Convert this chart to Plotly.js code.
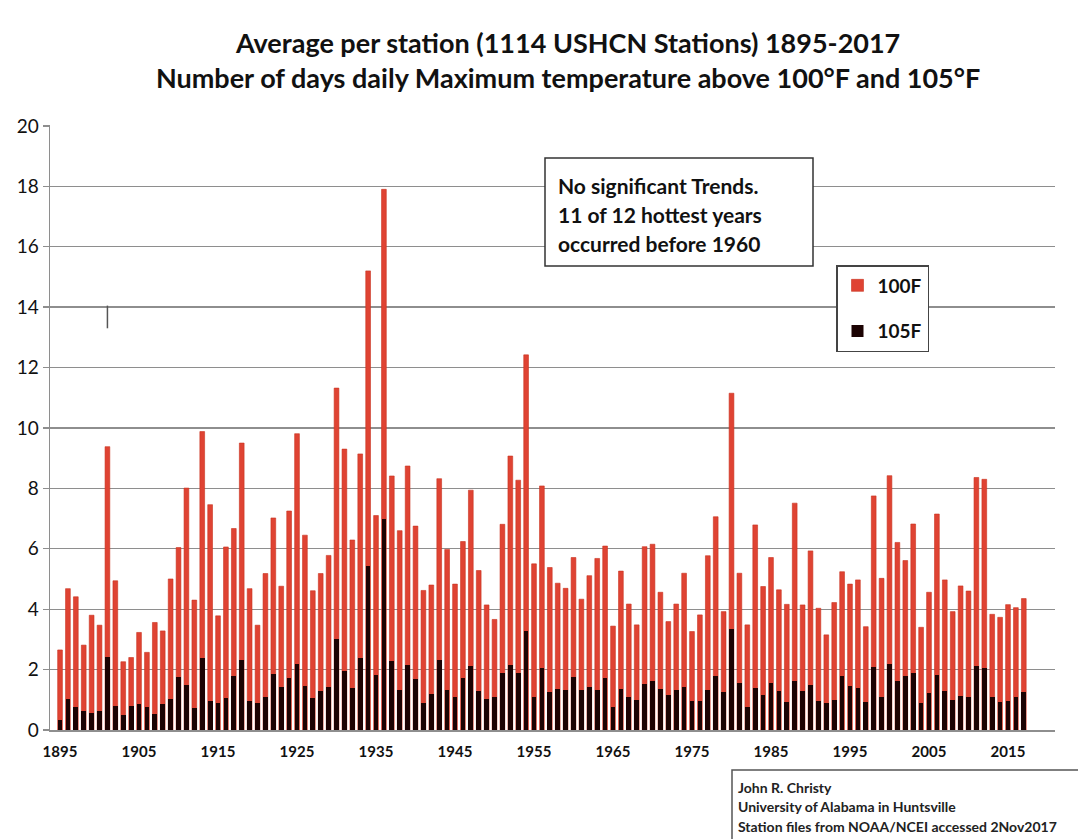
<!DOCTYPE html>
<html>
<head>
<meta charset="utf-8">
<script src="https://cdn.plot.ly/plotly-3.0.1.min.js"></script>
<style>html,body{margin:0;padding:0;background:#fff;}#chart{width:1078px;height:839px;}</style>
</head>
<body>
<div id="chart"></div>
<script>
const years = [1895,1896,1897,1898,1899,1900,1901,1902,1903,1904,1905,1906,1907,1908,1909,1910,1911,1912,1913,1914,1915,1916,1917,1918,1919,1920,1921,1922,1923,1924,1925,1926,1927,1928,1929,1930,1931,1932,1933,1934,1935,1936,1937,1938,1939,1940,1941,1942,1943,1944,1945,1946,1947,1948,1949,1950,1951,1952,1953,1954,1955,1956,1957,1958,1959,1960,1961,1962,1963,1964,1965,1966,1967,1968,1969,1970,1971,1972,1973,1974,1975,1976,1977,1978,1979,1980,1981,1982,1983,1984,1985,1986,1987,1988,1989,1990,1991,1992,1993,1994,1995,1996,1997,1998,1999,2000,2001,2002,2003,2004,2005,2006,2007,2008,2009,2010,2011,2012,2013,2014,2015,2016,2017];

const days100F = [2.65,4.68,4.41,2.81,3.80,3.47,9.38,4.94,2.26,2.40,
3.23,2.57,3.56,3.28,5.00,6.04,8.01,4.30,9.88,7.46,
3.78,6.06,6.67,9.50,4.68,3.47,5.18,7.02,4.76,7.25,
9.81,6.45,4.61,5.18,5.78,11.32,9.30,6.29,9.14,15.20,
7.10,17.90,8.41,6.60,8.74,6.75,4.62,4.80,8.32,5.98,
4.83,6.24,7.94,5.28,4.14,3.66,6.81,9.07,8.27,12.42,
5.50,8.08,5.38,4.86,4.69,5.71,4.33,5.11,5.68,6.09,
3.44,5.26,4.17,3.48,6.07,6.15,4.56,3.59,4.17,5.19,
3.26,3.81,5.77,7.06,3.92,11.15,5.19,3.48,6.79,4.75,
5.71,4.64,4.16,7.51,4.14,5.93,4.03,3.15,4.22,5.24,
4.83,4.97,3.42,7.75,5.02,8.42,6.21,5.61,6.82,3.40,
4.56,7.15,4.97,3.92,4.77,4.60,8.36,8.30,3.83,3.73,
4.15,4.05,4.35];

const days105F = [0.33,1.01,0.75,0.64,0.55,0.64,2.42,0.80,0.50,0.79,
0.86,0.77,0.52,0.85,1.02,1.75,1.50,0.72,2.38,0.95,
0.90,1.05,1.80,2.32,0.97,0.91,1.08,1.87,1.43,1.71,
2.20,1.45,1.05,1.30,1.43,3.00,1.97,1.39,2.37,5.44,
1.81,6.97,2.27,1.34,2.15,1.68,0.90,1.18,2.32,1.32,
1.10,1.71,2.12,1.29,1.03,1.08,1.88,2.15,1.88,3.28,
1.08,2.04,1.25,1.35,1.31,1.74,1.31,1.43,1.31,1.71,
0.75,1.36,1.08,0.99,1.51,1.62,1.36,1.16,1.31,1.42,
0.97,0.97,1.31,1.80,1.25,3.33,1.55,0.75,1.38,1.16,
1.55,1.29,0.92,1.62,1.29,1.49,0.96,0.88,0.99,1.79,
1.46,1.40,0.92,2.10,1.10,2.19,1.63,1.80,1.88,0.88,
1.21,1.82,1.29,0.99,1.14,1.08,2.12,2.06,1.08,0.92,
0.96,1.08,1.25];

const xLabelYears = [1895,1905,1915,1925,1935,1945,1955,1965,1975,1985,1995,2005,2015];
const yTicks = [0,2,4,6,8,10,12,14,16,18,20];

const noteLines = ["No significant Trends.","11 of 12 hottest years","occurred before 1960"];
const creditLines = ["John R. Christy","University of Alabama in Huntsville","Station files from NOAA/NCEI accessed 2Nov2017"];

const FONT = "Lato, 'Open Sans', sans-serif";
const GRID = "#8e8e8e";

const traces = [
  {type:"bar", name:"100F", x:years, y:days100F, width:0.6,
   marker:{color:"#df4333", line:{color:"#c9321f", width:0.6}},
   legendgroup:"a", hoverinfo:"x+y"},
  {type:"bar", name:"105F", x:years, y:days105F, width:0.6,
   marker:{color:"#1c0303"}, legendgroup:"b", hoverinfo:"x+y"}
];

const annotations = [];
const noteY = [186,215,243];
noteLines.forEach((t,i)=>{
  annotations.push({xref:"paper", yref:"paper", x:(556-50)/1005, y:(730-noteY[i])/605,
    xanchor:"left", yanchor:"middle", showarrow:false, align:"left",
    text:"<b>"+t+"</b>", font:{family:FONT, size:21, color:"#111"}});
});
const creditY = [787,806,826];
creditLines.forEach((t,i)=>{
  annotations.push({xref:"paper", yref:"paper", x:(736-50)/1005, y:(730-creditY[i])/605,
    xanchor:"left", yanchor:"middle", showarrow:false, align:"left",
    text:"<b>"+t+"</b>", font:{family:FONT, size:14, color:"#222"}});
});

const layout = {
  width:1078, height:839,
  margin:{l:50, r:23, t:125, b:109},
  paper_bgcolor:"#fff", plot_bgcolor:"#fff",
  barmode:"overlay",
  bargap:0,
  title:{text:"<b>Average per station (1114 USHCN Stations) 1895-2017<br>Number of days daily Maximum temperature above 100°F and 105°F</b>",
    x:0.527, xanchor:"center", xref:"container", y:1-53/839, yanchor:"middle", yref:"container",
    font:{family:FONT, size:27, color:"#111"}},
  font:{family:FONT, color:"#111"},
  xaxis:{type:"linear", range:[1893.73,2020.95], tickmode:"array", tickvals:xLabelYears,
    ticktext:xLabelYears.map(String), ticks:"", showgrid:false, zeroline:false,
    showline:true, linecolor:GRID, linewidth:1.5, ticklabelstandoff:7,
    tickfont:{family:FONT, size:15, color:"#111", weight:"bold"}},
  xaxis2:{type:"linear", overlaying:"x", anchor:"y", side:"bottom", range:[1893.73,2020.95],
    tickmode:"linear", tick0:1894.5, dtick:5, ticks:"outside", ticklen:6, tickwidth:1.3,
    tickcolor:GRID, showticklabels:false, showgrid:false, zeroline:false, showline:false},
  yaxis:{range:[0,20.03], tickmode:"array", tickvals:yTicks, ticktext:yTicks.map(String),
    ticks:"outside", ticklen:6, tickwidth:1.3, tickcolor:GRID,
    showgrid:true, gridcolor:GRID, gridwidth:1.3, zeroline:false,
    showline:true, linecolor:GRID, linewidth:1.5,
    tickfont:{family:FONT, size:19, color:"#111"}},
  showlegend:true,
  legend:{x:(836-50)/1005, y:(730-265)/605, xanchor:"left", yanchor:"top",
    bgcolor:"#fff", bordercolor:"#444", borderwidth:1.5,
    font:{family:FONT, size:19, color:"#111", weight:"bold"},
    traceorder:"grouped", tracegroupgap:18, itemwidth:30},
  shapes:[
    {type:"rect", xref:"paper", yref:"paper", x0:(545-50)/1005, x1:(813-50)/1005,
     y0:(730-266)/605, y1:(730-158)/605, line:{color:"#333", width:1.5}, fillcolor:"#fff", layer:"above"},
    {type:"rect", xref:"paper", yref:"paper", x0:(732-50)/1005, x1:1.06,
     y0:-0.3, y1:(730-770)/605, line:{color:"#555", width:1.5}, fillcolor:"#fff", layer:"above"},
    {type:"line", xref:"x", yref:"y", x0:1901, x1:1901, y0:13.3, y1:14.05,
     line:{color:"#555", width:1.5}}
  ],
  annotations:annotations
};

Plotly.newPlot("chart", traces, layout, {staticPlot:true, displayModeBar:false});
</script>
</body>
</html>
